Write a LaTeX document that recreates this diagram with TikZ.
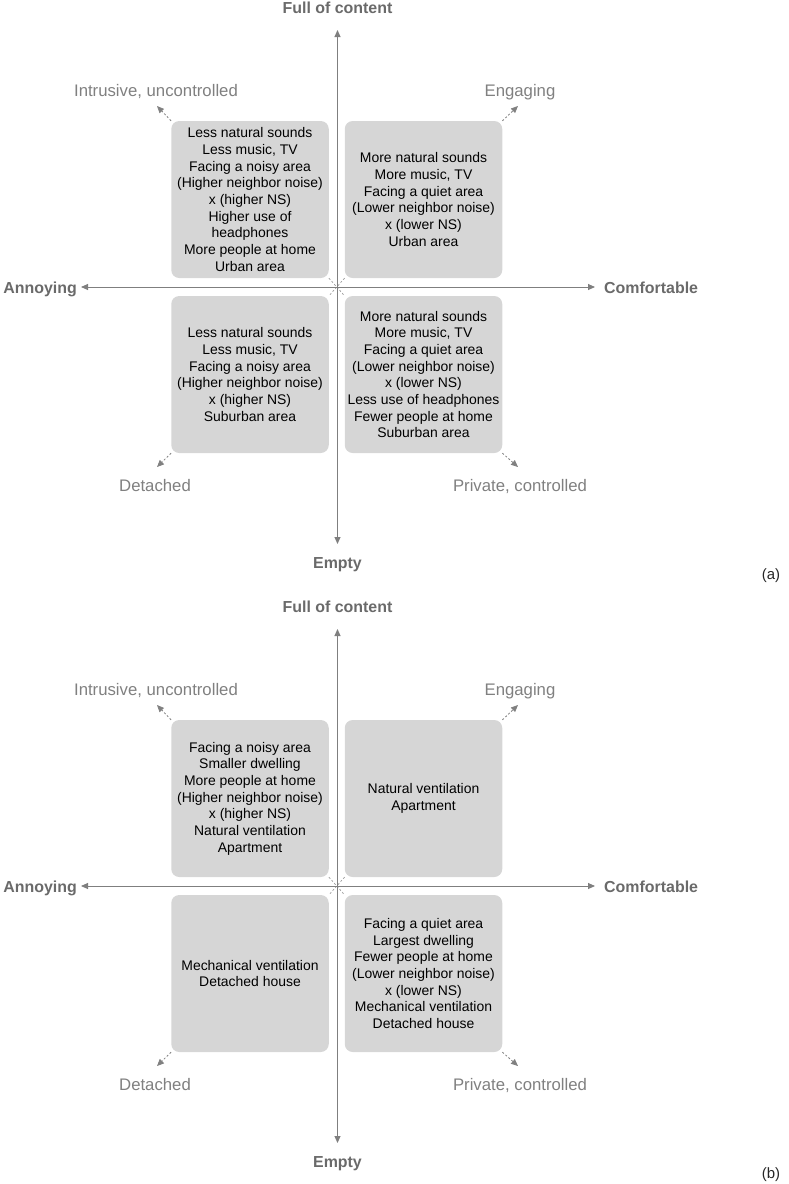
\documentclass[tikz,border=0pt]{standalone}
\usepackage{fontspec}
\setmainfont{Liberation Sans}
\usetikzlibrary{arrows.meta}
\definecolor{axisgray}{HTML}{7F7F7F}
\definecolor{labgray}{HTML}{6A6A6A}
\definecolor{diaggray}{HTML}{808080}
\definecolor{boxgray}{HTML}{D6D6D6}
\newcommand{\quadpanel}[7]{%
\begin{scope}[shift={(0,#2)}]
  \node[qbox] (#1tl) at (250,199.5) {#4};
  \node[qbox] (#1tr) at (423.5,199.5) {#5};
  \node[qbox] (#1bl) at (250,374.5) {#6};
  \node[qbox] (#1br) at (423.5,374.5) {#7};
  \draw[diagline] (#1tl.south east) -- (#1br.north west);
  \draw[diagline] (#1tr.south west) -- (#1bl.north east);
  \coordinate (#1top) at (337.5,30);
  \coordinate (#1bot) at (337.5,544);
  \coordinate (#1lft) at (81,287);
  \coordinate (#1rgt) at (595,287);
  \draw[axisline] (#1bot) -- (#1top);
  \draw[axisline] (#1lft) -- (#1rgt);
  \node[axislab, anchor=base] (#1full) at (337.5,13) {Full of content};
  \node[axislab, anchor=base] (#1empty) at (337.5,568) {Empty};
  \node[axislab, anchor=base east] (#1ann) at (77,293) {Annoying};
  \node[axislab, anchor=base west] (#1comf) at (604,293) {Comfortable};
  \coordinate (#1tlend) at (157,106);
  \coordinate (#1trend) at (518,106);
  \coordinate (#1blend) at (157,467);
  \coordinate (#1brend) at (518,467);
  \draw[diagarrow] (#1tl.north west) -- (#1tlend);
  \draw[diagarrow] (#1tr.north east) -- (#1trend);
  \draw[diagarrow] (#1bl.south west) -- (#1blend);
  \draw[diagarrow] (#1br.south east) -- (#1brend);
  \node[diaglab, anchor=base] (#1intr) at (156,96.5) {Intrusive, uncontrolled};
  \node[diaglab, anchor=base] (#1eng) at (520,96.5) {Engaging};
  \node[diaglab, anchor=base] (#1det) at (155,491.7) {Detached};
  \node[diaglab, anchor=base] (#1priv) at (520,491.7) {Private, controlled};
  \node[tag] (#1tag) at (771,575.5) {#3};
\end{scope}}
\begin{document}
\begin{tikzpicture}[x=1bp,y=-1bp,
  qbox/.style={fill=boxgray, rounded corners=8bp, minimum width=157.5bp, minimum height=157bp,
    inner sep=0pt, align=center, font=\fontsize{14}{16.7}\selectfont, text=black},
  axislab/.style={font=\bfseries\fontsize{16}{19}\selectfont, text=labgray, inner sep=0pt},
  diaglab/.style={font=\fontsize{16.8}{20}\selectfont, text=diaggray, inner sep=0pt},
  tag/.style={font=\fontsize{15}{18}\selectfont, text=black!85, inner sep=0pt},
  axisline/.style={draw=axisgray, line width=0.9bp,
    {Triangle[length=7bp,width=6bp]}-{Triangle[length=7bp,width=6bp]}},
  diagarrow/.style={draw=diaggray, line width=0.8bp, dash pattern=on 2bp off 2bp,
    -{Triangle[length=7bp,width=6bp]}},
  diagline/.style={draw=diaggray!80, line width=0.7bp, dash pattern=on 2bp off 2bp}]
\useasboundingbox (0,0) rectangle (789,1184);
\quadpanel{a}{0}{(a)}%
  {Less natural sounds\\Less music, TV\\Facing a noisy area\\(Higher neighbor noise)\\x (higher NS)\\Higher use of\\headphones\\More people at home\\Urban area}%
  {More natural sounds\\More music, TV\\Facing a quiet area\\(Lower neighbor noise)\\x (lower NS)\\Urban area}%
  {Less natural sounds\\Less music, TV\\Facing a noisy area\\(Higher neighbor noise)\\x (higher NS)\\Suburban area}%
  {More natural sounds\\More music, TV\\Facing a quiet area\\(Lower neighbor noise)\\x (lower NS)\\Less use of headphones\\Fewer people at home\\Suburban area}
\quadpanel{b}{599}{(b)}%
  {Facing a noisy area\\Smaller dwelling\\More people at home\\(Higher neighbor noise)\\x (higher NS)\\Natural ventilation\\Apartment}%
  {Natural ventilation\\Apartment}%
  {Mechanical ventilation\\Detached house}%
  {Facing a quiet area\\Largest dwelling\\Fewer people at home\\(Lower neighbor noise)\\x (lower NS)\\Mechanical ventilation\\Detached house}
\end{tikzpicture}
\end{document}
